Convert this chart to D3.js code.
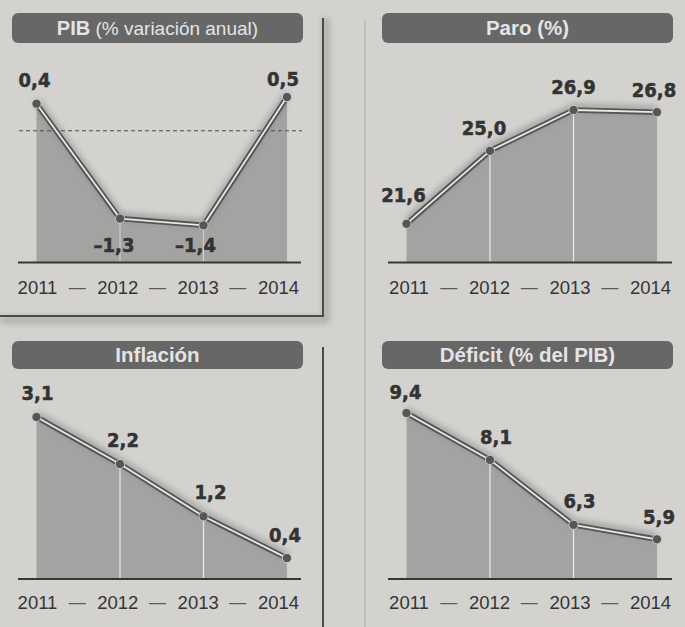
<!DOCTYPE html>
<html>
<head>
<meta charset="utf-8">
<script src="https://cdn.jsdelivr.net/npm/d3@7"></script>
<style>
  html, body { margin: 0; padding: 0; background: #d3d2cf; }
  svg { display: block; }
</style>
</head>
<body>
<div id="chart"></div>
<script>
// data
const years = ["2011", "2012", "2013", "2014"];
const pibValues = [0.4, -1.3, -1.4, 0.5];
const paroValues = [21.6, 25.0, 26.9, 26.8];
const inflacionValues = [3.1, 2.2, 1.2, 0.4];
const deficitValues = [9.4, 8.1, 6.3, 5.9];

const width = 685, height = 627;

// panel layout: columns and rows
const cols = [
  {bar: [12, 303], pts: [36.5, 287], yearPts: [37, 278], axis: [18, 301]},
  {bar: [382, 673], pts: [406.5, 657], yearPts: [408.5, 650], axis: [388, 672]}
];
const rows = [
  {barY: 13, barH: 30, base: 262.5, yearY: 294},
  {barY: 341, barH: 28, base: 579, yearY: 609}
];

const panels = [
  {title: [["PIB", "bold", 20], [" (% variación anual)", "normal", 19]], values: pibValues,
   col: 0, row: 0, domain: [-1.95, 0.5], top: 97, zero: true,
   dx: [-2, -6, -8, -4], dy: [-17, 33, 27, -11]},
  {title: [["Paro (%)", "bold", 20.5]], values: paroValues,
   col: 1, row: 0, domain: [19.8, 26.9], top: 110,
   dx: [-3, -6, 0, -3], dy: [-22, -16, -16, -15]},
  {title: [["Inflación", "bold", 20.5]], values: inflacionValues,
   col: 0, row: 1, domain: [0, 3.1], top: 417,
   dx: [1, 3, 7, -2], dy: [-17, -17, -17, -16]},
  {title: [["Déficit (% del PIB)", "bold", 20.5]], values: deficitValues,
   col: 1, row: 1, domain: [4.8, 9.4], top: 413,
   dx: [-1, 6, 6, 2], dy: [-14, -16, -17, -15]}
];

const esLocale = d3.formatLocale({decimal: ",", thousands: ".", grouping: [3], currency: ["", "€"], minus: "\u2013"});
const fmt = esLocale.format(".1f");

const svg = d3.select("#chart").append("svg")
    .attr("width", width)
    .attr("height", height);

const defs = svg.append("defs");
defs.append("filter").attr("id", "soft")
    .attr("x", "-10%").attr("y", "-30%").attr("width", "120%").attr("height", "160%")
  .append("feGaussianBlur").attr("stdDeviation", 3);
defs.append("filter").attr("id", "shade")
    .attr("x", "-20%").attr("y", "-20%").attr("width", "140%").attr("height", "140%")
  .append("feGaussianBlur").attr("stdDeviation", 3);

// paper
svg.append("rect").attr("width", width).attr("height", height).attr("fill", "#d3d2cf");

// boxes of the left column: rule + soft shadow
svg.append("path")
    .attr("d", "M 326 18 L 326 320 L 0 320")
    .attr("fill", "none").attr("stroke", "#8e8d8a").attr("stroke-width", 6)
    .attr("opacity", 0.6).attr("filter", "url(#shade)");
svg.append("path")
    .attr("d", "M 323 18 L 323 316 L 0 316")
    .attr("fill", "none").attr("stroke", "#4a4a4a").attr("stroke-width", 2);
svg.append("line").attr("x1", 326).attr("x2", 326).attr("y1", 347).attr("y2", 627)
    .attr("stroke", "#8e8d8a").attr("stroke-width", 6)
    .attr("opacity", 0.6).attr("filter", "url(#shade)");
svg.append("line").attr("x1", 323).attr("x2", 323).attr("y1", 347).attr("y2", 627)
    .attr("stroke", "#4a4a4a").attr("stroke-width", 2);
svg.append("line").attr("x1", 365).attr("x2", 365).attr("y1", 20).attr("y2", 627)
    .attr("stroke", "#c0bfbc").attr("stroke-width", 2);

panels.forEach(p => {
  const c = cols[p.col], r = rows[p.row];
  const g = svg.append("g");

  const x = d3.scalePoint().domain(years).range(c.pts);
  const xYear = d3.scalePoint().domain(years).range(c.yearPts);
  const y = d3.scaleLinear().domain(p.domain).range([r.base, p.top]);

  const pts = years.map((yr, i) => ({year: yr, value: p.values[i]}));

  // title bar
  g.append("rect")
      .attr("x", c.bar[0]).attr("y", r.barY)
      .attr("width", c.bar[1] - c.bar[0]).attr("height", r.barH)
      .attr("rx", 6)
      .attr("fill", "#676767");
  const t = g.append("text")
      .attr("x", (c.bar[0] + c.bar[1]) / 2)
      .attr("y", r.barY + r.barH / 2 + 7)
      .attr("text-anchor", "middle")
      .attr("fill", "#e4e4e4")
      .style("font-family", "'Liberation Sans', Arial, sans-serif");
  p.title.forEach(part => {
    t.append("tspan").text(part[0])
        .style("font-weight", part[1])
        .style("font-size", part[2] + "px");
  });

  // area under the line
  const area = d3.area()
      .x(d => x(d.year))
      .y0(r.base)
      .y1(d => y(d.value));
  g.append("path").datum(pts)
      .attr("d", area)
      .attr("fill", "#a3a3a2");

  // white drop lines at inner years
  g.selectAll(".drop").data(pts.slice(1, -1)).join("line")
      .attr("x1", d => x(d.year)).attr("x2", d => x(d.year))
      .attr("y1", d => y(d.value)).attr("y2", r.base)
      .attr("stroke", "#f2f2f2").attr("stroke-width", 1.2)
      .attr("opacity", p.zero ? 0.55 : 0.9);

  if (p.zero) {
    g.append("line")
        .attr("x1", 19).attr("x2", 302)
        .attr("y1", y(0)).attr("y2", y(0))
        .attr("stroke", "#4a4a4a").attr("stroke-width", 1)
        .attr("stroke-dasharray", "4,3");
  }

  const line = d3.line()
      .x(d => x(d.year))
      .y(d => y(d.value));

  // soft shadow above the line
  g.append("path").datum(pts)
      .attr("d", line)
      .attr("transform", "translate(0,-3)")
      .attr("fill", "none")
      .attr("stroke", "#3a3a3a").attr("stroke-width", 6)
      .attr("opacity", 0.35)
      .attr("filter", "url(#soft)");

  // double line
  g.append("path").datum(pts)
      .attr("d", line)
      .attr("fill", "none")
      .attr("stroke", "#555").attr("stroke-width", 5.5)
      .attr("stroke-linejoin", "round");
  g.append("path").datum(pts)
      .attr("d", line)
      .attr("fill", "none")
      .attr("stroke", "#e8e8e8").attr("stroke-width", 1.8)
      .attr("stroke-linejoin", "round");

  g.selectAll(".dot").data(pts).join("circle")
      .attr("cx", d => x(d.year))
      .attr("cy", d => y(d.value))
      .attr("r", 4.6)
      .attr("fill", "#555")
      .attr("stroke", "#d8d8d8").attr("stroke-width", 0.8);

  // value labels
  g.selectAll(".val").data(pts).join("text")
      .attr("x", (d, i) => x(d.year) + p.dx[i])
      .attr("y", (d, i) => y(d.value) + p.dy[i])
      .attr("text-anchor", "middle")
      .attr("fill", "#333")
      .attr("stroke", "#333").attr("stroke-width", 0.5)
      .style("font-family", "'DejaVu Sans Condensed', 'DejaVu Sans', sans-serif")
      .style("font-stretch", "condensed")
      .style("font-weight", "bold")
      .style("font-size", "20px")
      .text(d => fmt(d.value));

  // baseline
  g.append("line")
      .attr("x1", c.axis[0]).attr("x2", c.axis[1])
      .attr("y1", r.base).attr("y2", r.base)
      .attr("stroke", "#363636").attr("stroke-width", 2);

  // year axis
  const ax = g.append("g")
      .attr("transform", `translate(0,${r.yearY})`)
      .call(d3.axisBottom(xYear).tickSize(0).tickPadding(0));
  ax.select(".domain").remove();
  ax.selectAll("text")
      .attr("y", 0).attr("dy", null)
      .attr("fill", "#353535")
      .style("font-family", "'Liberation Sans', Arial, sans-serif")
      .style("font-size", "18.5px");

  // dashes between years
  g.selectAll(".dash").data(years.slice(1)).join("text")
      .attr("x", (d, i) => (xYear(years[i]) + xYear(d)) / 2)
      .attr("y", r.yearY - 1)
      .attr("text-anchor", "middle")
      .attr("fill", "#5a5a5a")
      .style("font-family", "'Liberation Sans', Arial, sans-serif")
      .style("font-size", "17px")
      .text("\u2014");
});
</script>
</body>
</html>
